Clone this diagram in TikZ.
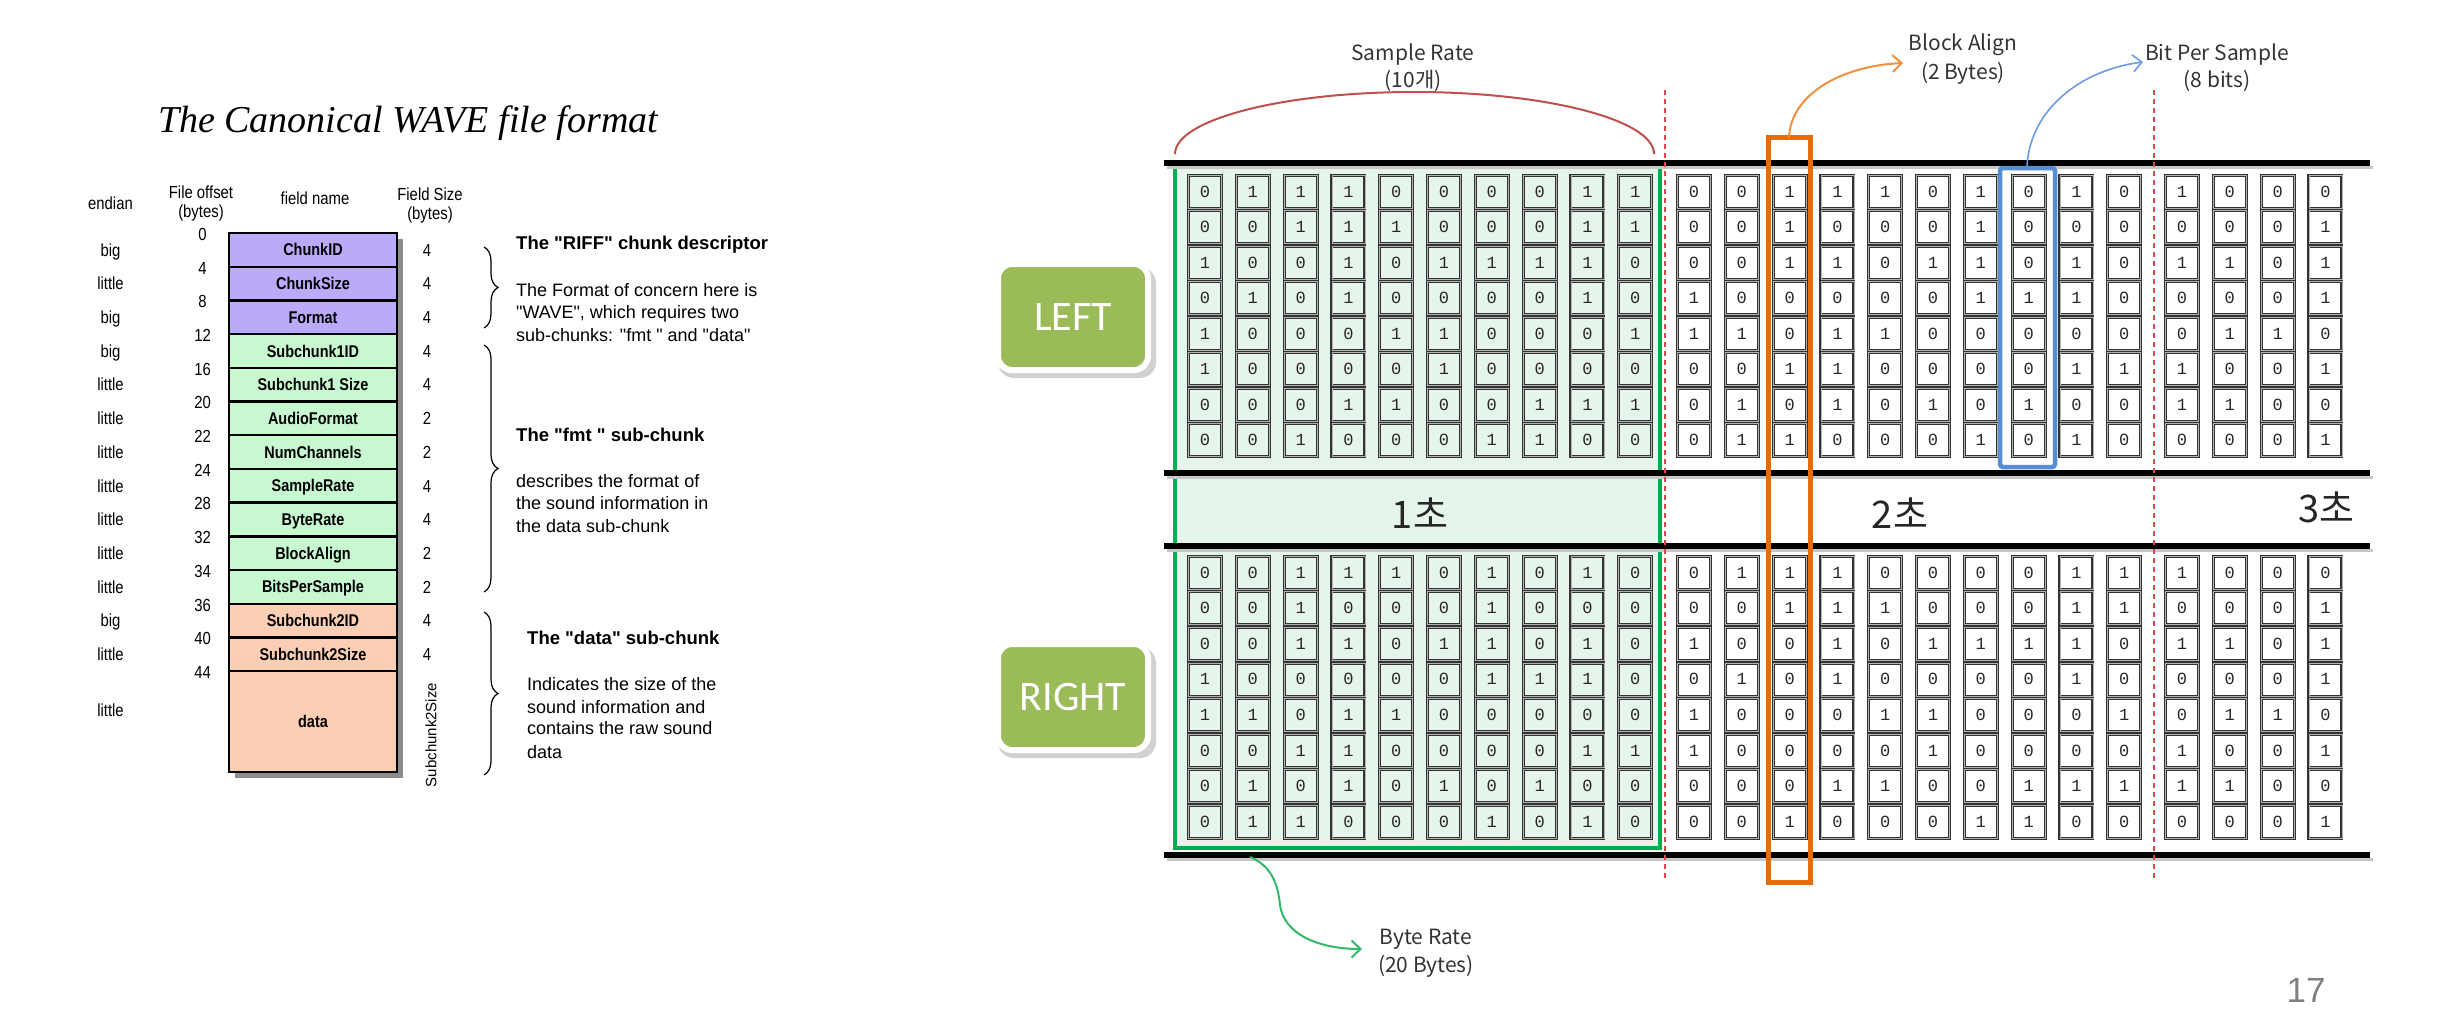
\documentclass[tikz,border=0pt]{standalone}
\usepackage{fontspec}
\usetikzlibrary{decorations.pathreplacing,arrows.meta}
\newfontfamily\arialf{Liberation Sans}
\newfontfamily\narrowf[FakeStretch=0.85]{Liberation Sans}
\newfontfamily\serf{Liberation Serif}
\newfontfamily\krf{Noto Sans CJK KR}
\newfontfamily\monof{Liberation Mono}
\newfontfamily\carlf{Carlito}
\newcommand\fsz[2]{\fontsize{#1pt}{#2pt}\selectfont}
\definecolor{wpurple}{RGB}{187,170,250}
\definecolor{wgreen}{RGB}{200,248,208}
\definecolor{wsalmon}{RGB}{252,206,180}
\definecolor{gbox}{RGB}{0,176,80}
\definecolor{gfill}{RGB}{230,245,235}
\definecolor{olivebox}{RGB}{155,187,89}
\definecolor{oline}{RGB}{228,108,10}
\definecolor{oarrow}{RGB}{240,145,65}
\definecolor{bline}{RGB}{85,142,213}
\definecolor{barrow}{RGB}{110,155,225}
\definecolor{garrow}{RGB}{50,185,105}
\definecolor{rarc}{RGB}{192,80,77}
\definecolor{rdash}{RGB}{225,70,70}
\begin{document}
\begin{tikzpicture}[x=1pt,y=-1pt,
  lab/.style={inner sep=0pt, anchor=base},
  nlab/.style={lab, font=\narrowf\fsz{17.5}{20}},
  txt/.style={inner sep=0pt, anchor=base west, font=\arialf\fsz{18}{20}},
  hd/.style={inner sep=0pt, anchor=base west, font=\arialf\bfseries\fsz{18.5}{20}},
  field/.style={draw=black, line width=2.4pt, minimum width=168pt, minimum height=33.7pt, inner sep=0pt, text height=12.2pt, text depth=0pt, font=\narrowf\bfseries\fsz{17}{20}},
  cell/.style={draw=black!80, double=black!30, double distance=0.8pt, line width=1.1pt, minimum width=33pt, minimum height=33pt, inner sep=0pt, text height=10.5pt, text depth=0pt, font=\monof\fsz{17}{18}, text=black!85},
  chan/.style={draw=white, line width=6pt, fill=olivebox, rounded corners=14pt, minimum width=150pt, minimum height=106pt, text=white, font=\carlf\fsz{42}{44}, text height=27pt, text depth=0pt, inner sep=0pt},
  sec/.style={font=\krf\fsz{38}{40}, text height=28pt, text depth=0pt, inner sep=0pt, text=black!85},
  krl/.style={inner sep=0pt, text height=15pt, text depth=0pt, font=\krf\fsz{21}{24}, text=black!80},
  brc/.style={decorate, decoration={brace, amplitude=14pt}, line width=1.2pt},
  blk/.style={line width=5.5pt, black},
  blksh/.style={line width=3pt, black!22},
  rdl/.style={rdash, line width=1.8pt, dash pattern=on 5pt off 4pt},
  barb/.style={-{Straight Barb[length=9pt,width=17pt]}}
]
\fill[white] (0,0) rectangle (2442,1020);
\useasboundingbox (0,0) rectangle (2442,1020);

% ---------------- Left panel ----------------
\node[lab, font=\serf\itshape\fsz{38}{42}] (title) at (408,132) {The Canonical WAVE file format};

\node[nlab] (hend) at (110.5,209) {endian};
\node[nlab] (hoff1) at (201,198) {File offset};
\node[nlab] (hoff2) at (201,217) {(bytes)};
\node[nlab] (hfield) at (315,204) {field name};
\node[nlab] (hsz1) at (430,200.3) {Field Size};
\node[nlab] (hsz2) at (430,219) {(bytes)};

\fill[black!45] (235,239) rectangle (403,778);
\foreach \nm/\col [count=\k from 0] in {ChunkID/wpurple,ChunkSize/wpurple,Format/wpurple,Subchunk1ID/wgreen,Subchunk1 Size/wgreen,AudioFormat/wgreen,NumChannels/wgreen,SampleRate/wgreen,ByteRate/wgreen,BlockAlign/wgreen,BitsPerSample/wgreen,Subchunk2ID/wsalmon,Subchunk2Size/wsalmon}{
  \node[field, fill=\col] (f\k) at (313,249.85+33.7*\k) {\nm};
}
\node[field, fill=wsalmon, minimum height=101.1pt] (fdata) at (313,721.6) {data};

\foreach \e [count=\k from 0] in {big,little,big,big,little,little,little,little,little,little,little,big,little}{
  \node[nlab] (e\k) at (110.5,256.15+33.7*\k) {\e};
}
\node[nlab] (edata) at (110.5,716.3) {little};

\foreach \o [count=\k from 0] in {0,4,8,12,16,20,22,24,28,32,34,36,40,44}{
  \node[nlab] (o\k) at (202.6,240.3+33.7*\k) {\o};
}
\foreach \s [count=\k from 0] in {4,4,4,4,4,2,2,4,4,2,2,4,4}{
  \node[nlab] (s\k) at (427,256.15+33.7*\k) {\s};
}
\node[rotate=90, font=\arialf\fsz{15}{16}, inner sep=0pt] (s2s) at (431,735) {Subchunk2Size};

\draw[brc] (484,247) -- (484,328);
\draw[brc] (484,345) -- (484,592);
\draw[brc] (484,612) -- (484,775);

\node[hd] (riffh) at (516,249.6) {The "RIFF" chunk descriptor};
\node[txt] (riff1) at (516,296) {The Format of concern here is};
\node[txt] (riff2) at (516,318.5) {"WAVE", which requires two};
\node[txt] (riff3) at (516,341.5) {sub-chunks: "fmt " and "data"};
\node[hd] (fmth) at (516,441.6) {The "fmt " sub-chunk};
\node[txt] (fmt1) at (516,487.2) {describes the format of};
\node[txt] (fmt2) at (516,509.5) {the sound information in};
\node[txt] (fmt3) at (516,532.2) {the data sub-chunk};
\node[hd] (datah) at (527,644.6) {The "data" sub-chunk};
\node[txt] (data1) at (527,690.5) {Indicates the size of the};
\node[txt] (data2) at (527,713.2) {sound information and};
\node[txt] (data3) at (527,734.5) {contains the raw sound};
\node[txt] (data4) at (527,758.2) {data};

% ---------------- Right panel ----------------
\fill[black!18, rounded corners=16pt] (998,267) rectangle (1156,378);
\node[chan] (left) at (1073,317) {LEFT};
\fill[black!18, rounded corners=16pt] (998,647) rectangle (1156,758);
\node[chan] (right) at (1073,697) {RIGHT};

\fill[gfill] (1175,167) rectangle (1660,848);

% LEFT channel bits
\foreach \rw [count=\r from 0] in {
 {0,1,1,1,0,0,0,0,1,1, 0,0,1,1,1,0,1,0,1,0, 1,0,0,0},
 {0,0,1,1,1,0,0,0,1,1, 0,0,1,0,0,0,1,0,0,0, 0,0,0,1},
 {1,0,0,1,0,1,1,1,1,0, 0,0,1,1,0,1,1,0,1,0, 1,1,0,1},
 {0,1,0,1,0,0,0,0,1,0, 1,0,0,0,0,0,1,1,1,0, 0,0,0,1},
 {1,0,0,0,1,1,0,0,0,1, 1,1,0,1,1,0,0,0,0,0, 0,1,1,0},
 {1,0,0,0,0,1,0,0,0,0, 0,0,1,1,0,0,0,0,1,1, 1,0,0,1},
 {0,0,0,1,1,0,0,1,1,1, 0,1,0,1,0,1,0,1,0,0, 1,1,0,0},
 {0,0,1,0,0,0,1,1,0,0, 0,1,1,0,0,0,1,0,1,0, 0,0,0,1}}{
  \foreach \d [count=\c from 0] in \rw {
    \pgfmathsetmacro\cx{(\c<10)*(1205+47.8*\c)+(\c>9)*(\c<20)*(1694+47.8*(\c-10))+(\c>19)*(2182+47.8*(\c-20))}
    \pgfmathsetmacro\cy{191.75+35.5*\r}
    \ifnum\c<10 \def\cf{gfill}\else\def\cf{white}\fi
    \node[cell, fill=\cf] (L\r-\c) at (\cx,\cy) {\d};
  }
}
% RIGHT channel bits
\foreach \rw [count=\r from 0] in {
 {0,0,1,1,1,0,1,0,1,0, 0,1,1,1,0,0,0,0,1,1, 1,0,0,0},
 {0,0,1,0,0,0,1,0,0,0, 0,0,1,1,1,0,0,0,1,1, 0,0,0,1},
 {0,0,1,1,0,1,1,0,1,0, 1,0,0,1,0,1,1,1,1,0, 1,1,0,1},
 {1,0,0,0,0,0,1,1,1,0, 0,1,0,1,0,0,0,0,1,0, 0,0,0,1},
 {1,1,0,1,1,0,0,0,0,0, 1,0,0,0,1,1,0,0,0,1, 0,1,1,0},
 {0,0,1,1,0,0,0,0,1,1, 1,0,0,0,0,1,0,0,0,0, 1,0,0,1},
 {0,1,0,1,0,1,0,1,0,0, 0,0,0,1,1,0,0,1,1,1, 1,1,0,0},
 {0,1,1,0,0,0,1,0,1,0, 0,0,1,0,0,0,1,1,0,0, 0,0,0,1}}{
  \foreach \d [count=\c from 0] in \rw {
    \pgfmathsetmacro\cx{(\c<10)*(1205+47.8*\c)+(\c>9)*(\c<20)*(1694+47.8*(\c-10))+(\c>19)*(2182+47.8*(\c-20))}
    \pgfmathsetmacro\cy{572.75+35.6*\r}
    \ifnum\c<10 \def\cf{gfill}\else\def\cf{white}\fi
    \node[cell, fill=\cf] (R\r-\c) at (\cx,\cy) {\d};
  }
}

\draw[gbox, line width=4.5pt] (1175,167) rectangle (1660,848);

% horizontal black bars
\foreach \yy in {163,473,546,855}{
  \draw[blksh] (1167,\yy+4) -- (2373,\yy+4);
  \draw[blk] (1164,\yy) -- (2370,\yy);
}

% second markers
\draw[rdl] (1665,90) -- (1665,878);
\draw[rdl] (2154,90) -- (2154,878);

\node[sec] (s1) at (1420,514) {1초};
\node[sec] (s2) at (1900,514) {2초};
\node[sec] (s3) at (2326,508) {3초};

% highlight boxes
\draw[oline, line width=5pt] (1768,137) rectangle (1810,882);
\draw[bline, line width=4.5pt, rounded corners=3pt] (2000,168) rectangle (2055,467);

% sample rate arc
\draw[rarc, line width=2pt] (1175,154) .. controls (1175,119.8) and (1281.7,92) .. (1414,92) .. controls (1546.3,92) and (1654,119.8) .. (1654,154);
\node[krl] (sr1) at (1413,53) {Sample Rate};
\node[krl] (sr2) at (1413,80) {(10개)};

% block align
\coordinate (oa0) at (1789,137);
\coordinate (oa1) at (1903,63);
\draw[oarrow, line width=2pt, barb] (oa0) .. controls (1791,95) and (1840,66) .. (oa1);
\node[krl] (ba1) at (1963,43) {Block Align};
\node[krl] (ba2) at (1963,72) {(2 Bytes)};

% bit per sample
\coordinate (ba0) at (2027,166);
\coordinate (bb1) at (2143,62);
\draw[barrow, line width=1.6pt, barb] (ba0) .. controls (2030,110) and (2080,70) .. (bb1);
\node[krl] (bp1) at (2217,53) {Bit Per Sample};
\node[krl] (bp2) at (2217,80) {(8 bits)};

% byte rate
\coordinate (ga0) at (1250,857);
\coordinate (ga1) at (1362,949);
\draw[garrow, line width=2pt, barb] (ga0) .. controls (1272,866) and (1278,885) .. (1280,905) .. controls (1284,935) and (1320,949) .. (ga1);
\node[krl] (br1) at (1426,937) {Byte Rate};
\node[krl] (br2) at (1426,965) {(20 Bytes)};

\node[font=\arialf\fsz{35}{36}, text=black!50, text height=25pt, text depth=0pt, inner sep=0pt] (pg) at (2306,990) {17};
\end{tikzpicture}
\end{document}
